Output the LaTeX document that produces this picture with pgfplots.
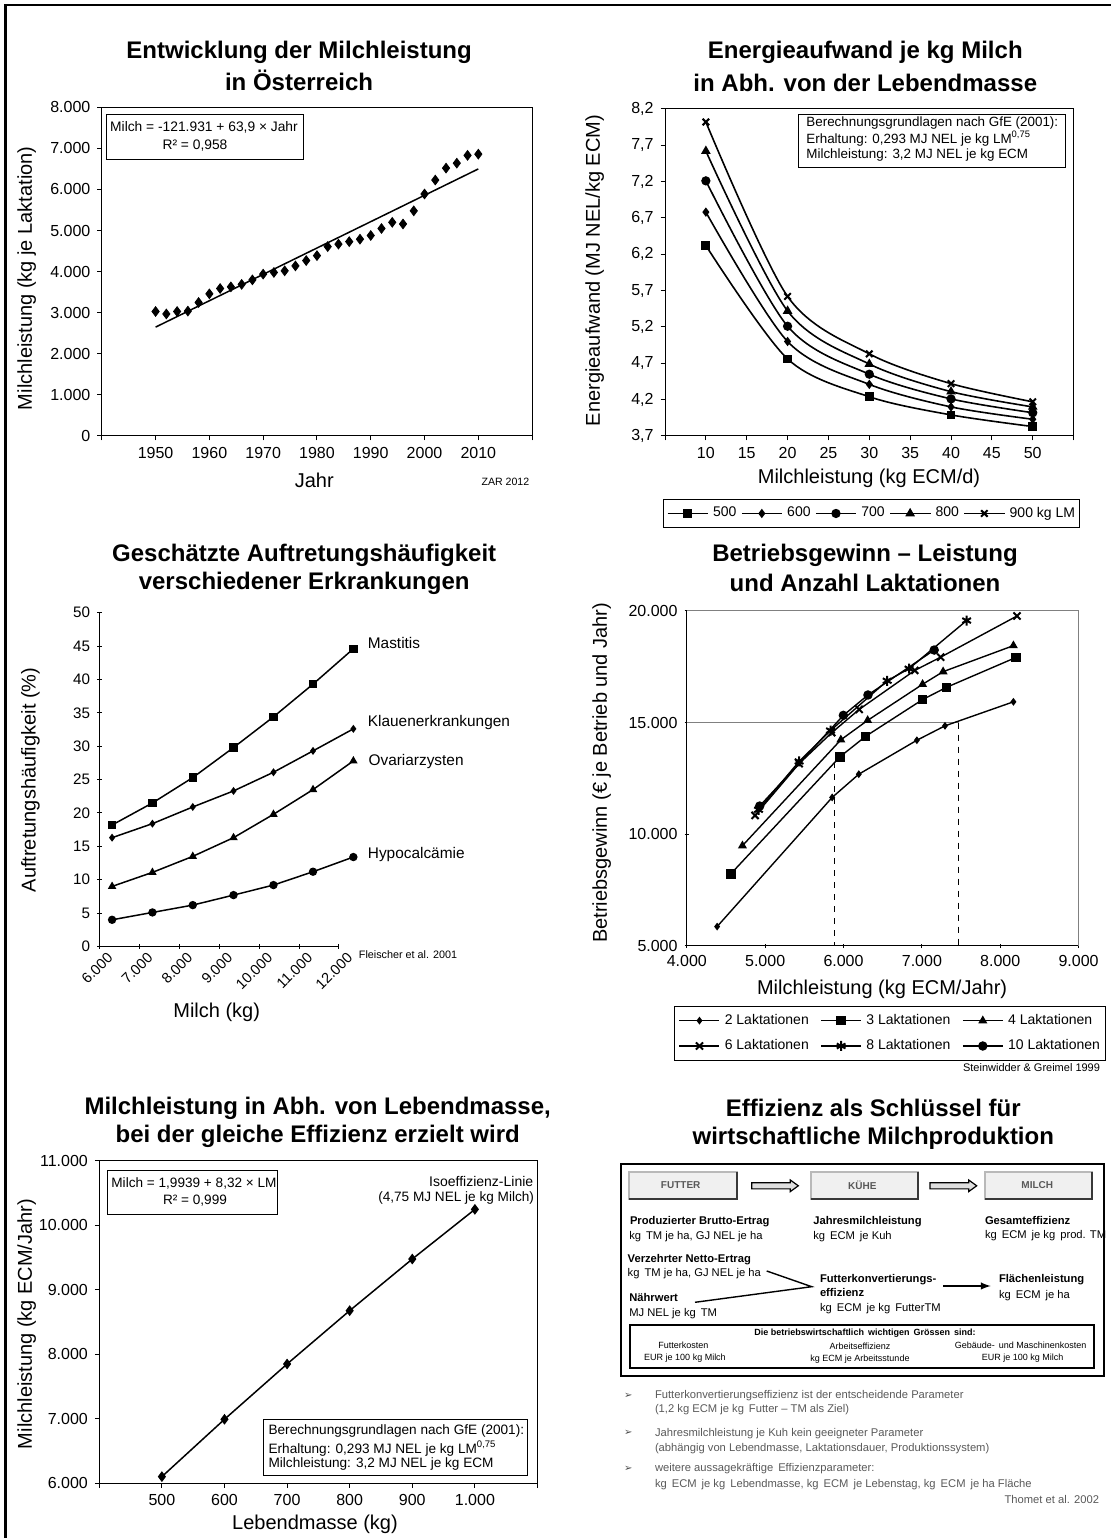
\documentclass[border=0pt]{standalone}
\usepackage{pgfplots}
\pgfplotsset{compat=1.18}
\usepackage{fontspec}
\setmainfont{Liberation Sans}
\newfontfamily\symfont{DejaVu Sans}
\newcommand\fs[2]{\fontsize{#1}{#2}\selectfont}
\pgfplotsset{
  every axis/.append style={
    scale only axis, anchor=south west, clip=false,
    /pgf/number format/assume math mode=true,
    /pgf/number format/use comma,
    /pgf/number format/1000 sep={.},
    scaled ticks=false,
    tick align=outside,
    major tick length=2.2pt,
    tick style={black, line width=0.5pt},
    axis line style={line width=0.5pt},
    tick label style={font=\fs{8}{9.6}},
    legend cell align=left,
    legend image code/.code={\draw[mark repeat=2,mark phase=2,#1] plot coordinates {(0pt,0pt) (10pt,0pt) (20pt,0pt)};},
  },
}
\begin{document}
\begin{tikzpicture}[x=0.5pt,y=0.5pt]
\useasboundingbox (0,0) rectangle (1111,1538);

% ---------------- Panel 1 ----------------
\begin{axis}[at={(50.9pt,551pt)}, width=215.15pt, height=164.35pt,
  xmin=1940, xmax=2020, ymin=0, ymax=8000,
  xtick={1940,1950,...,2020}, xticklabels={,1950,1960,1970,1980,1990,2000,2010,},
  ytick={0,1000,...,8000}, tick pos=left]
\addplot[only marks, mark=diamond*, mark size=2.4pt, black] table[x=x,y=y] {
x y
1950 3030
1952 2970
1954 3030
1956 3040
1958 3250
1960 3460
1962 3590
1964 3630
1966 3690
1968 3800
1970 3940
1972 3980
1974 4020
1976 4140
1978 4270
1980 4390
1982 4610
1984 4670
1986 4730
1988 4790
1990 4880
1992 5050
1994 5200
1996 5160
1998 5480
2000 5890
2002 6230
2004 6520
2006 6640
2008 6830
2010 6860
};
\addplot[no marks, black, line width=0.75pt] coordinates {(1950,2650) (2010,6500)};
\end{axis}

% ---------------- Panel 2 ----------------
\begin{axis}[at={(332.5pt,551pt)}, width=204.3pt, height=163.55pt,
  xmin=5, xmax=55, ymin=3.7, ymax=8.2,
  xtick={5,10,...,55}, xticklabels={,10,15,20,25,30,35,40,45,50,},
  ytick={3.7,4.2,4.7,5.2,5.7,6.2,6.7,7.2,7.7,8.2},
  yticklabel style={/pgf/number format/.cd, fixed, fixed zerofill, precision=1},
  tick pos=left,
  legend columns=5,
  legend style={at={(-0.004,-0.192)}, anchor=north west, draw=black, line width=0.5pt,
    font=\fs{7}{8.4}, inner xsep=1.5pt, inner ysep=3pt, nodes={inner sep=0.8pt},
    /tikz/every odd column/.append style={column sep=1.5pt},
    /tikz/every even column/.append style={column sep=1.5pt}},
]
\addplot[smooth, black, line width=0.8pt, mark=square*, mark size=1.8pt] coordinates {(10,6.32) (20,4.76) (30,4.24) (40,3.99) (50,3.83)};
\addplot[smooth, black, line width=0.8pt, mark=diamond*, mark size=1.7pt] coordinates {(10,6.78) (20,5.00) (30,4.41) (40,4.10) (50,3.93)};
\addplot[smooth, black, line width=0.8pt, mark=*, mark size=1.9pt] coordinates {(10,7.21) (20,5.21) (30,4.55) (40,4.21) (50,4.02)};
\addplot[smooth, black, line width=0.8pt, mark=triangle*, mark size=2pt] coordinates {(10,7.62) (20,5.42) (30,4.69) (40,4.31) (50,4.10)};
\addplot[smooth, black, line width=0.8pt, mark=x, mark size=2.3pt, mark options={line width=1pt}] coordinates {(10,8.02) (20,5.62) (30,4.83) (40,4.42) (50,4.17)};
\legend{500,600,700,800,900 kg LM}
\end{axis}

% ---------------- Panel 3 ----------------
\begin{axis}[at={(49.65pt,295.75pt)}, width=119.85pt, height=166.9pt,
  axis lines=left, axis line style={-},
  xmin=6000, xmax=12000, ymin=0, ymax=50,
  xtick={6000,7000,...,12000}, ytick={0,5,...,50},
  xticklabel style={rotate=45, anchor=north east, font=\fs{7.3}{9}, xshift=5pt},
  yticklabel style={font=\fs{7.6}{9}},
]
\addplot[black, line width=0.75pt, mark=square*, mark size=1.7pt] coordinates {(6320,18.2) (7330,21.5) (8340,25.3) (9360,29.8) (10360,34.4) (11350,39.3) (12360,44.6)};
\addplot[black, line width=0.75pt, mark=diamond*, mark size=1.4pt] coordinates {(6320,16.3) (7330,18.4) (8340,20.9) (9360,23.3) (10360,26.1) (11350,29.3) (12360,32.6)};
\addplot[black, line width=0.75pt, mark=triangle*, mark size=1.7pt] coordinates {(6320,9.0) (7330,11.1) (8340,13.5) (9360,16.3) (10360,19.8) (11350,23.5) (12360,27.8)};
\addplot[black, line width=0.75pt, mark=*, mark size=1.7pt] coordinates {(6320,4.0) (7330,5.1) (8340,6.2) (9360,7.7) (10360,9.2) (11350,11.2) (12360,13.4)};
\end{axis}

% ---------------- Panel 4 ----------------
\begin{axis}[at={(343.4pt,296pt)}, width=195.9pt, height=167.55pt,
  axis lines=left, axis line style={-},
  xmin=4000, xmax=9000, ymin=5000, ymax=20000,
  xtick={4000,5000,...,9000}, ytick={5000,10000,15000,20000},
  legend columns=3,
  legend style={at={(-0.032,-0.179)}, anchor=north west, draw=black, line width=0.5pt,
    font=\fs{7}{8.4}, inner xsep=2pt, inner ysep=3pt, row sep=4.5pt, nodes={inner sep=0.8pt},
    /tikz/every odd column/.append style={column sep=1.5pt},
    /tikz/every even column/.append style={column sep=5pt}},
]
\draw[gray, line width=0.6pt] (rel axis cs:0,1) -- (rel axis cs:1,1) -- (rel axis cs:1,0);
\addplot[gray, line width=0.6pt, no marks, forget plot] coordinates {(4000,15000) (7470,15000)};
\addplot[black, dashed, line width=0.5pt, no marks, forget plot] coordinates {(5890,13220) (5890,5000)};
\addplot[black, dashed, line width=0.5pt, no marks, forget plot] coordinates {(7470,15000) (7470,5000)};
\addplot[black, line width=0.7pt, mark=diamond*, mark size=1.4pt] coordinates {(4387,5870) (5855,11650) (6195,12690) (6936,14210) (7295,14855) (8168,15930)};
\addplot[black, line width=0.7pt, mark=square*, mark size=2pt] coordinates {(4562,8230) (5953,13465) (6284,14390) (7009,16030) (7315,16580) (8203,17920)};
\addplot[black, line width=0.7pt, mark=triangle*, mark size=1.9pt] coordinates {(4710,9490) (5966,14230) (6308,15100) (7009,16715) (7271,17280) (8168,18445)};
\addplot[black, line width=0.7pt, mark=x, mark size=2.5pt, mark options={line width=1pt}] coordinates {(4871,10846) (5433,13163) (5850,14550) (6200,15590) (6909,17336) (7240,17930) (8214,19772)};
\addplot[black, line width=0.7pt, mark=asterisk, mark size=2.5pt, mark options={line width=1pt}] coordinates {(4915,11098) (5433,13260) (5834,14644) (6557,16873) (6836,17414) (7571,19568)};
\addplot[black, line width=0.7pt, mark=*, mark size=2pt] coordinates {(4930,11264) (5998,15325) (6312,16236) (7157,18248)};
\legend{2 Laktationen,3 Laktationen,4 Laktationen,6 Laktationen,8 Laktationen,10 Laktationen}
\end{axis}

% ---------------- Panel 5 ----------------
\begin{axis}[at={(49.65pt,27.35pt)}, width=219.1pt, height=161.3pt,
  xmin=400, xmax=1100, ymin=6000, ymax=11000,
  xtick={400,500,...,1100}, xticklabels={,500,600,700,800,900,1.000,},
  ytick={6000,7000,...,11000}, tick pos=left]
\addplot[black, line width=0.75pt, mark=diamond*, mark size=2.1pt] coordinates {(500,6103) (600,6992) (700,7849) (800,8676) (900,9476) (1000,10246)};
\end{axis}

% ---------------- texts and drawings (pixel coordinates, y down) ----------------
\begin{scope}[shift={(0,1538)}, y=-0.5pt, every node/.style={inner sep=0pt, outer sep=0pt}]
\draw[line width=1.3pt] (5.5,1538) -- (5.5,5) -- (1111,5);

% titles
\node[font=\bfseries\fs{12}{14}] at (299.1,52) {Entwicklung der Milchleistung};
\node[font=\bfseries\fs{12}{14}] at (299.1,80) {in Österreich};
\node[font=\bfseries\fs{12}{14}] at (865.3,52.4) {Energieaufwand je kg Milch};
\node[font=\bfseries\fs{12}{14}] at (865.3,82.8) {in Abh. von der Lebendmasse};
\node[font=\bfseries\fs{12}{14}] at (304.2,555) {Geschätzte Auftretungshäufigkeit};
\node[font=\bfseries\fs{12}{14}] at (304.2,583.3) {verschiedener Erkrankungen};
\node[font=\bfseries\fs{12}{14}] at (865,555.8) {Betriebsgewinn – Leistung};
\node[font=\bfseries\fs{12}{14}] at (865,583.4) {und Anzahl Laktationen};
\node[font=\bfseries\fs{12}{14}] at (317.7,1108.3) {Milchleistung in Abh. von Lebendmasse,};
\node[font=\bfseries\fs{12}{14}] at (317.7,1136.7) {bei der gleiche Effizienz erzielt wird};
\node[font=\bfseries\fs{12}{14}] at (873.3,1108.3) {Effizienz als Schlüssel für};
\node[font=\bfseries\fs{12}{14}] at (873.3,1138.3) {wirtschaftliche Milchproduktion};

% axis labels
\node[rotate=90, font=\fs{10}{12}] at (26.8,278.3) {Milchleistung (kg je Laktation)};
\node[font=\fs{10}{12}] at (314.3,480) {Jahr};
\node[font=\fs{5.3}{6}] at (505.4,482) {ZAR 2012};
\node[rotate=90, font=\fs{10}{12}] at (594.6,270.5) {Energieaufwand (MJ NEL/kg ECM)};
\node[font=\fs{10}{12}] at (869,478.3) {Milchleistung (kg ECM/d)};
\node[rotate=90, font=\fs{10}{12}] at (30.4,780) {Auftretungshäufigkeit (\%)};
\node[font=\fs{10}{12}] at (216.7,1012) {Milch (kg)};
\node[anchor=west, font=\fs{5.4}{6}] at (358.9,955) {Fleischer et al. 2001};
\node[rotate=90, font=\fs{10}{12}] at (601.8,772.8) {Betriebsgewinn (€ je Betrieb und Jahr)};
\node[font=\fs{10}{12}] at (882.1,989.7) {Milchleistung (kg ECM/Jahr)};
\node[anchor=east, font=\fs{5.5}{6}] at (1100,1068) {Steinwidder \& Greimel 1999};
\node[rotate=90, font=\fs{10}{12}] at (26.8,1324) {Milchleistung (kg ECM/Jahr)};
\node[font=\fs{10}{12}] at (315,1524) {Lebendmasse (kg)};

% panel 1 box
\draw[line width=0.5pt] (106.4,115) rectangle (303.2,159.3);
\node[font=\fs{6.9}{8}] at (204,127.7) {Milch = -121.931 + 63,9 × Jahr};
\node[font=\fs{6.9}{8}] at (195,145.7) {R² = 0,958};

% panel 2 box
\draw[line width=0.5pt, fill=white] (798.9,115) rectangle (1065.4,168);
\node[anchor=west, font=\fs{6.7}{8}] at (806.4,122.7) {Berechnungsgrundlagen nach GfE (2001):};
\node[anchor=west, font=\fs{6.7}{8}] at (806.4,138.6) {Erhaltung: 0,293 MJ NEL je kg LM\textsuperscript{0,75}};
\node[anchor=west, font=\fs{6.7}{8}] at (806.4,154.8) {Milchleistung: 3,2 MJ NEL je kg ECM};

% panel 3 curve labels
\node[anchor=west, font=\fs{7.7}{9}] at (367.9,642.7) {Mastitis};
\node[anchor=west, font=\fs{7.7}{9}] at (367.9,722.3) {Klauenerkrankungen};
\node[anchor=west, font=\fs{7.7}{9}] at (368.6,761.7) {Ovariarzysten};
\node[anchor=west, font=\fs{7.7}{9}] at (367.9,855) {Hypocalcämie};

% panel 5 boxes
\draw[line width=0.5pt] (107.1,1171) rectangle (277.5,1215);
\node[font=\fs{6.8}{8}] at (194,1183.3) {Milch = 1,9939 + 8,32 × LM};
\node[font=\fs{6.8}{8}] at (195,1200.7) {R² = 0,999};
\node[anchor=east, font=\fs{7}{8}] at (533.2,1181) {Isoeffizienz-Linie};
\node[anchor=east, font=\fs{6.8}{8}] at (534,1198.3) {(4,75 MJ NEL je kg Milch)};
\draw[line width=0.5pt, fill=white] (263.2,1420) rectangle (527.9,1475.7);
\node[anchor=west, font=\fs{6.8}{8}] at (268.6,1430.7) {Berechnungsgrundlagen nach GfE (2001):};
\node[anchor=west, font=\fs{6.8}{8}] at (268.6,1448.3) {Erhaltung: 0,293 MJ NEL je kg LM\textsuperscript{0,75}};
\node[anchor=west, font=\fs{6.8}{8}] at (268.6,1464.3) {Milchleistung: 3,2 MJ NEL je kg ECM};

% ---------------- Panel 6 diagram ----------------
\draw[line width=1pt] (620.7,1164) rectangle (1104,1376);
\foreach \a/\b/\c/\t in {629.3/736.7/680.7/FUTTER, 810.7/917.7/862.3/KÜHE, 985/1091.7/1037.3/MILCH}{
  \draw[fill=gray!12, draw=gray!55, line width=0.9pt] (\a,1172) rectangle (\b,1199);
  \draw[gray!45!black, line width=0.9pt] (\a,1199) -- (\b,1199) -- (\b,1172);
  \node[font=\bfseries\fs{5}{6}, text=black!65] at (\c,1185.5) {\t};
}
\foreach \a/\b in {751.7/798.3, 930/976.7}{
  \draw[fill=gray!25, line width=0.6pt] (\a,1182.7) -- ({\b-8},1182.7) -- ({\b-8},1180) -- (\b,1185.8) -- ({\b-8},1191.6) -- ({\b-8},1188.9) -- (\a,1188.9) -- cycle;
}
\node[anchor=west, font=\bfseries\fs{5.6}{6.5}] at (630,1221.7) {Produzierter Brutto-Ertrag};
\node[anchor=west, font=\fs{5.6}{6.5}] at (629.3,1236.7) {kg\, TM je ha, GJ NEL je ha};
\node[anchor=west, font=\bfseries\fs{5.6}{6.5}] at (813.3,1221.7) {Jahresmilchleistung};
\node[anchor=west, font=\fs{5.6}{6.5}] at (813.3,1236.7) {kg\, ECM\, je Kuh};
\node[anchor=west, font=\bfseries\fs{5.6}{6.5}] at (985,1220.7) {Gesamteffizienz};
\node[anchor=west, font=\fs{5.6}{6.5}] at (985,1235.7) {kg\, ECM\, je kg\, prod. TM};
\node[anchor=west, font=\bfseries\fs{5.6}{6.5}] at (627.7,1259.3) {Verzehrter Netto-Ertrag};
\node[anchor=west, font=\fs{5.6}{6.5}] at (627.7,1274) {kg\, TM je ha, GJ NEL je ha};
\node[anchor=west, font=\bfseries\fs{5.6}{6.5}] at (629.3,1297.3) {Nährwert};
\node[anchor=west, font=\fs{5.6}{6.5}] at (629.3,1313.3) {MJ NEL je kg\, TM};
\draw[line width=0.7pt] (766.7,1271) -- (811.7,1286.7) -- (695,1302.3);
\node[anchor=west, font=\bfseries\fs{5.6}{6.5}] at (820,1280) {Futterkonvertierungs-};
\node[anchor=west, font=\bfseries\fs{5.6}{6.5}] at (820,1292.7) {effizienz};
\node[anchor=west, font=\fs{5.6}{6.5}] at (820,1308.3) {kg\, ECM\, je kg\, FutterTM};
\draw[line width=0.7pt, -latex] (943.3,1286) -- (990.7,1286);
\node[anchor=west, font=\bfseries\fs{5.6}{6.5}] at (999,1280) {Flächenleistung};
\node[anchor=west, font=\fs{5.6}{6.5}] at (999,1295.7) {kg\, ECM\, je ha};
\draw[line width=1pt] (630,1325) rectangle (1094.3,1367.7);
\node[font=\bfseries\fs{4.5}{5.5}] at (865,1333.3) {Die betriebswirtschaftlich\, wichtigen\, Grössen\, sind:};
\node[font=\fs{4.5}{5.5}] at (683.3,1345) {Futterkosten};
\node[font=\fs{4.5}{5.5}] at (685,1357.7) {EUR je 100 kg Milch};
\node[font=\fs{4.5}{5.5}] at (860,1346) {Arbeitseffizienz};
\node[font=\fs{4.5}{5.5}] at (860,1358.7) {kg ECM je Arbeitsstunde};
\node[font=\fs{4.5}{5.5}] at (1020.7,1345) {Gebäude-\, und Maschinenkosten};
\node[font=\fs{4.5}{5.5}] at (1022.7,1357.7) {EUR je 100 kg Milch};
% bullets
\foreach \y in {1396,1433.3,1469}{\node[font=\symfont\fs{5}{6}, text=black!70] at (628.3,\y) {➢};}
\node[anchor=west, font=\fs{5.6}{6.5}, text=black!65] at (655,1396) {Futterkonvertierungseffizienz ist der entscheidende Parameter};
\node[anchor=west, font=\fs{5.6}{6.5}, text=black!65] at (655,1409.3) {(1,2 kg ECM je kg\, Futter – TM als Ziel)};
\node[anchor=west, font=\fs{5.6}{6.5}, text=black!65] at (655,1433.3) {Jahresmilchleistung je Kuh kein geeigneter Parameter};
\node[anchor=west, font=\fs{5.6}{6.5}, text=black!65] at (655,1449) {(abhängig von Lebendmasse, Laktationsdauer, Produktionssystem)};
\node[anchor=west, font=\fs{5.6}{6.5}, text=black!65] at (655,1469) {weitere aussagekräftige\, Effizienzparameter:};
\node[anchor=west, font=\fs{5.6}{6.5}, text=black!65] at (655,1484.3) {kg\, ECM\, je kg\, Lebendmasse, kg\, ECM\, je Lebenstag, kg\, ECM\, je ha Fläche};
\node[anchor=east, font=\fs{5.6}{6.5}, text=black!65] at (1099,1499) {Thomet et al. 2002};
\end{scope}
\end{tikzpicture}
\end{document}
